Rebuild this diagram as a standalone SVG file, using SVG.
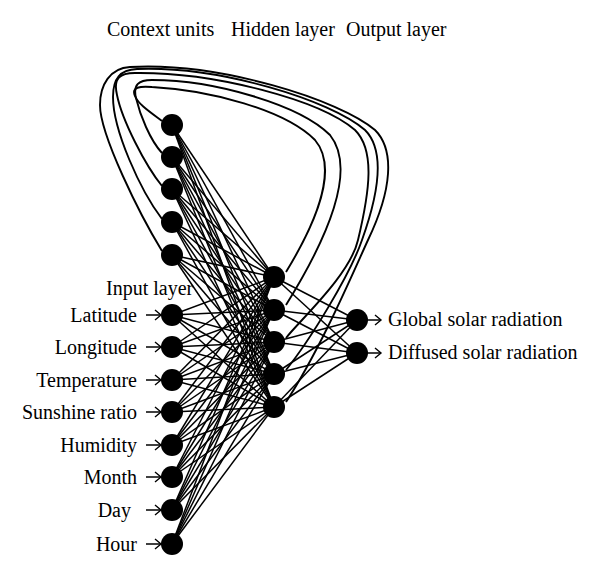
<svg xmlns="http://www.w3.org/2000/svg" width="600" height="576" viewBox="0 0 600 576">
<style>
.t{font-family:"Liberation Serif","Times New Roman",serif;font-size:20px;fill:#000}
.e{text-anchor:end}
.c line,.c path{stroke:#000;stroke-width:1.5;fill:none}
.c path.loop{stroke-width:1.9}
.n{fill:#000}
</style>
<defs>
<marker id="arr" markerUnits="userSpaceOnUse" markerWidth="10" markerHeight="12" refX="7" refY="6" orient="auto">
<path d="M1,1 L7,6 L1,11" fill="none" stroke="#000" stroke-width="1.4"/>
</marker>
</defs>
<rect width="600" height="576" fill="#fff"/>
<g id="connectors" class="c">
<!-- recurrent loops hidden -> context -->
<path class="loop" d="M162,121 C150,112 138,104 135,96 C131,87 140,86 152,87 C210,90 285,110 315,140 C332,160 330,200 286,272"/>
<path class="loop" d="M162,153 C150,140 140,115 136,98 C133,85 138,80 152,80 C215,80 300,105 330,135 C350,160 345,210 286,305"/>
<path class="loop" d="M162,186 C145,165 122,120 117,95 C113,78 120,73 135,73 C215,72 320,100 355,130 C375,150 370,190 358,240 C350,275 300,320 286,338"/>
<path class="loop" d="M162,219 C140,190 113,130 113,97 C113,78 120,70 137,69 C220,66 330,100 365,130 C385,150 380,190 362,240 C350,275 310,340 286,370"/>
<path class="loop" d="M162,251 C140,215 100,135 100,105 C100,85 110,68 130,67 C220,62 340,100 375,130 C395,150 392,190 368,240 C352,275 320,350 286,402"/>
<!-- context -> hidden -->
<line x1="172" y1="125" x2="274" y2="277"/><line x1="172" y1="125" x2="274" y2="310"/><line x1="172" y1="125" x2="274" y2="342"/><line x1="172" y1="125" x2="274" y2="374"/><line x1="172" y1="125" x2="274" y2="407"/>
<line x1="172" y1="157" x2="274" y2="277"/><line x1="172" y1="157" x2="274" y2="310"/><line x1="172" y1="157" x2="274" y2="342"/><line x1="172" y1="157" x2="274" y2="374"/><line x1="172" y1="157" x2="274" y2="407"/>
<line x1="172" y1="189" x2="274" y2="277"/><line x1="172" y1="189" x2="274" y2="310"/><line x1="172" y1="189" x2="274" y2="342"/><line x1="172" y1="189" x2="274" y2="374"/><line x1="172" y1="189" x2="274" y2="407"/>
<line x1="172" y1="222" x2="274" y2="277"/><line x1="172" y1="222" x2="274" y2="310"/><line x1="172" y1="222" x2="274" y2="342"/><line x1="172" y1="222" x2="274" y2="374"/><line x1="172" y1="222" x2="274" y2="407"/>
<line x1="172" y1="255" x2="274" y2="277"/><line x1="172" y1="255" x2="274" y2="310"/><line x1="172" y1="255" x2="274" y2="342"/><line x1="172" y1="255" x2="274" y2="374"/><line x1="172" y1="255" x2="274" y2="407"/>
<!-- input -> hidden -->
<line x1="172" y1="315" x2="274" y2="277"/><line x1="172" y1="315" x2="274" y2="310"/><line x1="172" y1="315" x2="274" y2="342"/><line x1="172" y1="315" x2="274" y2="374"/><line x1="172" y1="315" x2="274" y2="407"/>
<line x1="172" y1="347" x2="274" y2="277"/><line x1="172" y1="347" x2="274" y2="310"/><line x1="172" y1="347" x2="274" y2="342"/><line x1="172" y1="347" x2="274" y2="374"/><line x1="172" y1="347" x2="274" y2="407"/>
<line x1="172" y1="380" x2="274" y2="277"/><line x1="172" y1="380" x2="274" y2="310"/><line x1="172" y1="380" x2="274" y2="342"/><line x1="172" y1="380" x2="274" y2="374"/><line x1="172" y1="380" x2="274" y2="407"/>
<line x1="172" y1="412" x2="274" y2="277"/><line x1="172" y1="412" x2="274" y2="310"/><line x1="172" y1="412" x2="274" y2="342"/><line x1="172" y1="412" x2="274" y2="374"/><line x1="172" y1="412" x2="274" y2="407"/>
<line x1="172" y1="445" x2="274" y2="277"/><line x1="172" y1="445" x2="274" y2="310"/><line x1="172" y1="445" x2="274" y2="342"/><line x1="172" y1="445" x2="274" y2="374"/><line x1="172" y1="445" x2="274" y2="407"/>
<line x1="172" y1="477" x2="274" y2="277"/><line x1="172" y1="477" x2="274" y2="310"/><line x1="172" y1="477" x2="274" y2="342"/><line x1="172" y1="477" x2="274" y2="374"/><line x1="172" y1="477" x2="274" y2="407"/>
<line x1="172" y1="510" x2="274" y2="277"/><line x1="172" y1="510" x2="274" y2="310"/><line x1="172" y1="510" x2="274" y2="342"/><line x1="172" y1="510" x2="274" y2="374"/><line x1="172" y1="510" x2="274" y2="407"/>
<line x1="172" y1="544" x2="274" y2="277"/><line x1="172" y1="544" x2="274" y2="310"/><line x1="172" y1="544" x2="274" y2="342"/><line x1="172" y1="544" x2="274" y2="374"/><line x1="172" y1="544" x2="274" y2="407"/>
<!-- hidden -> output -->
<line x1="274" y1="277" x2="357" y2="320"/><line x1="274" y1="277" x2="357" y2="353"/>
<line x1="274" y1="310" x2="357" y2="320"/><line x1="274" y1="310" x2="357" y2="353"/>
<line x1="274" y1="342" x2="357" y2="320"/><line x1="274" y1="342" x2="357" y2="353"/>
<line x1="274" y1="374" x2="357" y2="320"/><line x1="274" y1="374" x2="357" y2="353"/>
<line x1="274" y1="407" x2="357" y2="320"/><line x1="274" y1="407" x2="357" y2="353"/>
<!-- input arrows -->
<line x1="146" y1="315" x2="161" y2="315" marker-end="url(#arr)"/>
<line x1="146" y1="347" x2="161" y2="347" marker-end="url(#arr)"/>
<line x1="146" y1="380" x2="161" y2="380" marker-end="url(#arr)"/>
<line x1="146" y1="412" x2="161" y2="412" marker-end="url(#arr)"/>
<line x1="146" y1="445" x2="161" y2="445" marker-end="url(#arr)"/>
<line x1="146" y1="477" x2="161" y2="477" marker-end="url(#arr)"/>
<line x1="146" y1="510" x2="161" y2="510" marker-end="url(#arr)"/>
<line x1="146" y1="544" x2="161" y2="544" marker-end="url(#arr)"/>
<!-- output arrows -->
<line x1="366" y1="320" x2="381" y2="320" marker-end="url(#arr)"/>
<line x1="366" y1="353" x2="381" y2="353" marker-end="url(#arr)"/>
</g>
<g id="context-nodes">
<circle id="ctx1" class="n" cx="172" cy="125" r="11"/>
<circle id="ctx2" class="n" cx="172" cy="157" r="11"/>
<circle id="ctx3" class="n" cx="172" cy="189" r="11"/>
<circle id="ctx4" class="n" cx="172" cy="222" r="11"/>
<circle id="ctx5" class="n" cx="172" cy="255" r="11"/>
</g>
<g id="input-nodes">
<g id="in-latitude"><circle class="n" cx="172" cy="315" r="11"/><text class="t e" x="137" y="321.5">Latitude</text></g>
<g id="in-longitude"><circle class="n" cx="172" cy="347" r="11"/><text class="t e" x="137" y="353.5">Longitude</text></g>
<g id="in-temperature"><circle class="n" cx="172" cy="380" r="11"/><text class="t e" x="137" y="386.5">Temperature</text></g>
<g id="in-sunshine"><circle class="n" cx="172" cy="412" r="11"/><text class="t e" x="137" y="418.5">Sunshine ratio</text></g>
<g id="in-humidity"><circle class="n" cx="172" cy="445" r="11"/><text class="t e" x="137" y="451.5">Humidity</text></g>
<g id="in-month"><circle class="n" cx="172" cy="477" r="11"/><text class="t e" x="137" y="483.5">Month</text></g>
<g id="in-day"><circle class="n" cx="172" cy="510" r="11"/><text class="t e" x="131" y="516.5">Day</text></g>
<g id="in-hour"><circle class="n" cx="172" cy="544" r="11"/><text class="t e" x="137" y="550.5">Hour</text></g>
</g>
<g id="hidden-nodes">
<circle id="h1" class="n" cx="274" cy="277" r="11"/>
<circle id="h2" class="n" cx="274" cy="310" r="11"/>
<circle id="h3" class="n" cx="274" cy="342" r="11"/>
<circle id="h4" class="n" cx="274" cy="374" r="11"/>
<circle id="h5" class="n" cx="274" cy="407" r="11"/>
</g>
<g id="output-nodes">
<g id="out-global"><circle class="n" cx="357" cy="320" r="11"/><text class="t" x="388" y="326">Global solar radiation</text></g>
<g id="out-diffused"><circle class="n" cx="357" cy="353" r="11"/><text class="t" x="388" y="359">Diffused solar radiation</text></g>
</g>
<g id="labels">
<text class="t" x="107" y="36">Context units</text>
<text class="t" x="231" y="36">Hidden layer</text>
<text class="t" x="346" y="36">Output layer</text>
<text class="t" x="106" y="295">Input layer</text>
</g>
</svg>
